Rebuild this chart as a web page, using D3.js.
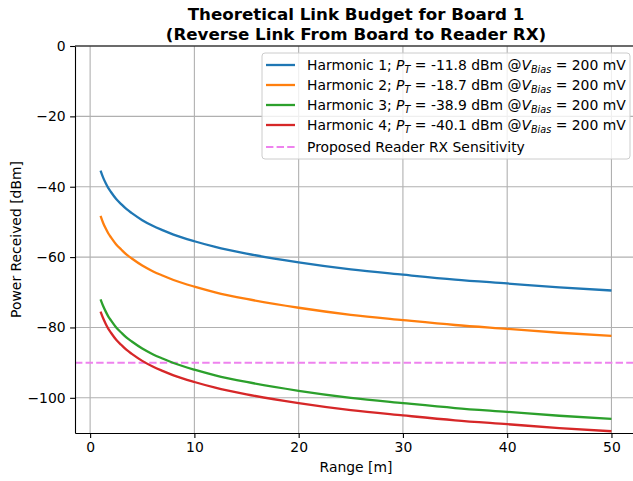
<!DOCTYPE html>
<html>
<head>
<meta charset="utf-8">
<script src="https://cdn.jsdelivr.net/npm/d3@7"></script>
<style>
  body { margin: 0; background: #fff; }
  svg { font-family: "DejaVu Sans", sans-serif; }
</style>
</head>
<body>
<div class="chart"></div>
<script>
// range [m] and received power [dBm]
var range = [1, 1.25, 1.5, 1.75, 2, 2.5, 3, 3.5, 4, 5, 6, 7, 8, 10, 12, 15, 20, 25, 30, 35, 40, 45, 50];
var harmonic1 = [-35.4, -37.4, -39.0, -40.4, -41.5, -43.5, -45.0, -46.4, -47.5, -49.5, -51.1, -52.4, -53.6, -55.5, -57.1, -59.0, -61.5, -63.5, -65.0, -66.4, -67.5, -68.6, -69.5];
var harmonic2 = [-48.3, -50.3, -51.9, -53.3, -54.4, -56.4, -57.9, -59.3, -60.4, -62.4, -64.0, -65.3, -66.5, -68.4, -70.0, -71.9, -74.4, -76.4, -77.9, -79.3, -80.4, -81.5, -82.4];
var harmonic3 = [-72.0, -73.9, -75.5, -76.9, -78.0, -80.0, -81.5, -82.9, -84.0, -86.0, -87.6, -88.9, -90.1, -92.0, -93.6, -95.5, -98.0, -100.0, -101.5, -102.9, -104.0, -105.1, -106.0];
var harmonic4 = [-75.5, -77.4, -79.0, -80.4, -81.5, -83.5, -85.0, -86.4, -87.5, -89.5, -91.1, -92.4, -93.6, -95.5, -97.1, -99.0, -101.5, -103.5, -105.0, -106.4, -107.5, -108.6, -109.5];
var sensitivity = -90;
var ptLabels = ["-11.8", "-18.7", "-38.9", "-40.1"];
var colors = ["#1f77b4", "#ff7f0e", "#2ca02c", "#d62728"];
var xTicks = [0, 10, 20, 30, 40, 50];
var yTicks = [0, -20, -40, -60, -80, -100];

var drawChart = function(){
  var screen = {width: 633, height: 481};
  var margin = {top: 46, right: -4, bottom: 48, left: 75};
  var w = screen.width - margin.left - margin.right;
  var h = screen.height - margin.top - margin.bottom;

  var svg = d3.select(".chart").append("svg")
      .attr("width", screen.width)
      .attr("height", screen.height);

  var x = d3.scaleLinear().domain([-1.45, 52.45]).range([margin.left, margin.left + w]);
  var y = d3.scaleLinear().domain([-110, 0]).range([margin.top + h, margin.top]);

  // grid
  var grid = svg.append("g");
  grid.selectAll(".gx").data(xTicks).enter().append("line")
      .attr("x1", function(d){ return x(d) }).attr("x2", function(d){ return x(d) })
      .attr("y1", margin.top).attr("y2", margin.top + h)
      .style("stroke", "#b0b0b0").attr("stroke-width", 1.1);
  grid.selectAll(".gy").data(yTicks).enter().append("line")
      .attr("x1", margin.left).attr("x2", margin.left + w)
      .attr("y1", function(d){ return y(d) }).attr("y2", function(d){ return y(d) })
      .style("stroke", "#b0b0b0").attr("stroke-width", 1.1);

  // sensitivity line
  svg.append("line")
      .attr("x1", margin.left).attr("x2", x(50) + 22)
      .attr("y1", y(sensitivity)).attr("y2", y(sensitivity))
      .style("stroke", "violet").attr("stroke-width", 2)
      .attr("stroke-dasharray", "7.4,3.2");

  var series = [harmonic1, harmonic2, harmonic3, harmonic4];
  var line = d3.line()
      .x(function(d, i){ return x(range[i]) })
      .y(function(d){ return y(d) })
      .curve(d3.curveMonotoneX);
  svg.append("g").selectAll("path").data(series).enter().append("path")
      .attr("d", line)
      .style("fill", "none")
      .style("stroke", function(d, i){ return colors[i] })
      .attr("stroke-width", 2.3);

  // axes
  var xAxis = svg.append("g")
      .attr("transform", "translate(0," + (margin.top + h) + ")")
      .call(d3.axisBottom(x).tickValues(xTicks).tickSize(4.9).tickSizeOuter(0).tickPadding(4.5));
  var yAxis = svg.append("g")
      .attr("transform", "translate(" + margin.left + ",0)")
      .call(d3.axisLeft(y).tickValues(yTicks).tickSize(4.9).tickSizeOuter(0).tickPadding(4.5)
        .tickFormat(function(d){ return d < 0 ? "\u2212" + Math.abs(d) : d }));
  [xAxis, yAxis].forEach(function(a){
    a.selectAll("text").style("font-size", "13.9px").style("fill", "#000")
      .style("font-family", "DejaVu Sans, sans-serif");
    a.selectAll("line").style("stroke", "#000").attr("stroke-width", 1.1);
    a.select(".domain").style("stroke", "#000").attr("stroke-width", 1.1);
  });
  svg.append("line")
      .attr("x1", margin.left).attr("x2", margin.left + w)
      .attr("y1", margin.top).attr("y2", margin.top)
      .style("stroke", "#000").attr("stroke-width", 1.1);

  // labels
  svg.append("text").attr("x", 356).attr("y", 472)
      .attr("text-anchor", "middle").style("font-size", "13.9px").text("Range [m]");
  svg.append("text")
      .attr("transform", "translate(21," + (margin.top + h / 2) + ") rotate(-90)")
      .attr("text-anchor", "middle").style("font-size", "13.9px").text("Power Received [dBm]");
  var title = svg.append("text").attr("text-anchor", "middle")
      .style("font-size", "16.7px").style("font-weight", "bold");
  title.append("tspan").attr("x", 356).attr("y", 20).text("Theoretical Link Budget for Board 1");
  title.append("tspan").attr("x", 356).attr("y", 40).text("(Reverse Link From Board to Reader RX)");

  // legend
  var lg = svg.append("g");
  lg.append("rect").attr("x", 262).attr("y", 53).attr("width", 368).attr("height", 106)
      .attr("rx", 3).style("fill", "#fff").style("fill-opacity", 0.8)
      .style("stroke", "#cccccc").attr("stroke-width", 1);
  var rowsY = [65, 85, 105, 125];
  ptLabels.forEach(function(pt, i){
    lg.append("line").attr("x1", 266).attr("x2", 295)
        .attr("y1", rowsY[i]).attr("y2", rowsY[i])
        .style("stroke", colors[i]).attr("stroke-width", 2.3);
    var t = lg.append("text").attr("x", 307).attr("y", rowsY[i] + 5)
        .style("font-size", "13.9px");
    t.append("tspan").text("Harmonic " + (i + 1) + "; ");
    t.append("tspan").style("font-style", "italic").text("P");
    t.append("tspan").style("font-style", "italic").style("font-size", "9.7px")
        .attr("dy", 3).text("T");
    t.append("tspan").attr("dy", -3).text(" = " + pt + " dBm @");
    t.append("tspan").style("font-style", "italic").text("V");
    t.append("tspan").style("font-style", "italic").style("font-size", "9.7px")
        .attr("dy", 3).text("Bias");
    t.append("tspan").attr("dy", -3).text(" = 200 mV");
  });
  lg.append("line").attr("x1", 266).attr("x2", 295).attr("y1", 147).attr("y2", 147)
      .style("stroke", "violet").attr("stroke-width", 2).attr("stroke-dasharray", "7.4,3.2");
  lg.append("text").attr("x", 307).attr("y", 152).style("font-size", "13.9px")
      .text("Proposed Reader RX Sensitivity");
}

drawChart()
</script>
</body>
</html>
